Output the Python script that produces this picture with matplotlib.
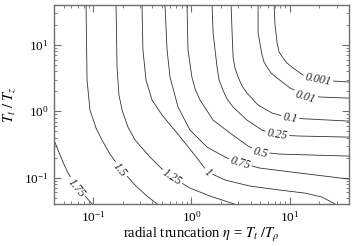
import numpy as np
import matplotlib
matplotlib.use("Agg")
import matplotlib.pyplot as plt

# serif look of the original (Times-like)
plt.rcParams['font.family'] = ['Liberation Serif', 'DejaVu Serif']
plt.rcParams['mathtext.fontset'] = 'stix'
plt.rcParams['font.size'] = 9

# contour levels, as printed on the lines
levels = ['0.001', '0.01', '0.1', '0.25', '0.5', '0.75', '1', '1.25', '1.5', '1.75']

# contour lines: eta (x) and Tt/Tz (y)
x_0001 = [6.92, 7.08, 7.43, 7.78, 8.55, 9.38, 10.8, 13.6, 19.4, 27.5, 40]
y_0001 = [40, 19.95, 10.7, 7.82, 6.35, 5.33, 4.49, 3.52, 3.06, 2.86, 2.76]

x_001 = [4.76, 4.76, 5.22, 5.47, 5.87, 6.45, 7.43, 10.07, 14.3, 20.3, 40]
y_001 = [40, 15.1, 7.05, 5.52, 4.65, 3.77, 3.17, 2.24, 1.76, 1.64, 1.58]

x_01 = [2.53, 2.59, 2.65, 2.77, 2.98, 3.27, 3.67, 4.76, 6.60, 10.07, 16.1, 40]
y_01 = [40, 15.1, 6.57, 4.49, 3.28, 2.40, 1.88, 1.24, 0.94, 0.791, 0.762, 0.711]

x_025 = [1.62, 1.66, 1.82, 1.91, 2.09, 2.30, 2.65, 3.67, 5.22, 7.43, 12.7, 40]
y_025 = [40, 15.1, 4.65, 2.96, 2.09, 1.53, 1.16, 0.736, 0.520, 0.438, 0.423, 0.408]

x_05 = [0.901, 0.922, 1.01, 1.09, 1.22, 1.66, 2.47, 3.76, 4.99, 7.96, 40]
y_05 = [40, 8.38, 3.28, 2.16, 1.48, 0.736, 0.469, 0.299, 0.243, 0.226, 0.211]

x_075 = [0.538, 0.565, 0.605, 0.730, 0.966, 1.44, 2.30, 3.12, 4.99, 12.7, 40]
y_075 = [40, 8.38, 3.28, 1.16, 0.520, 0.288, 0.197, 0.166, 0.139, 0.117, 0.095]

x_1 = [0.314, 0.321, 0.345, 0.397, 0.502, 0.713, 1.04, 1.47, 2.20, 3.94, 7.96, 14.3, 21.3, 28.9]
y_1 = [40, 8.38, 2.96, 1.48, 0.877, 0.469, 0.234, 0.121, 0.0918, 0.0745, 0.0648, 0.0584, 0.0508, 0.04]

x_125 = [0.171, 0.175, 0.183, 0.197, 0.226, 0.267, 0.379, 0.514, 0.634, 0.966, 1.55, 2.71]
y_125 = [40, 4.65, 1.76, 1.04, 0.578, 0.368, 0.204, 0.130, 0.102, 0.0695, 0.0526, 0.04]

x_15 = [0.0847, 0.0867, 0.0929, 0.107, 0.123, 0.1485, 0.1875, 0.267, 0.353, 0.447]
y_15 = [40, 2.96, 1.04, 0.558, 0.368, 0.226, 0.139, 0.0771, 0.0526, 0.04]

x_175 = [0.040, 0.044, 0.0494, 0.0555, 0.0638, 0.0735, 0.0847, 0.0975]
y_175 = [0.368, 0.260, 0.171, 0.117, 0.0855, 0.0648, 0.0508, 0.04]

# where each level's label sits on its line
label_x = [19.4, 14.3, 10.07, 7.43, 4.99, 3.12, 1.47, 0.634, 0.1875, 0.067]
label_y = [3.0, 1.64, 0.79, 0.438, 0.234, 0.166, 0.121, 0.102, 0.130, 0.0695]

lines_x = [x_0001, x_001, x_01, x_025, x_05, x_075, x_1, x_125, x_15, x_175]
lines_y = [y_0001, y_001, y_01, y_025, y_05, y_075, y_1, y_125, y_15, y_175]

fig = plt.figure(figsize=(3.57, 2.46), dpi=100)
ax = fig.add_axes([54 / 357, 1 - 204 / 246, 295 / 357, 199 / 246])
ax.set_xscale('log')
ax.set_yscale('log')
ax.set_xlim(0.04, 40)
ax.set_ylim(0.04, 40)

line_color = '#333333'
for xs, ys in zip(lines_x, lines_y):
    ax.plot(xs, ys, color=line_color, lw=0.6, zorder=2,
            solid_joinstyle='round')


def label_angle(xs, ys, lx, ly):
    # direction of the line near the label, in screen space
    pts = ax.transData.transform(np.column_stack([xs, ys]))
    p = ax.transData.transform((lx, ly))
    i = int(np.argmin(np.hypot(*(pts - p).T)))
    j0, j1 = max(i - 1, 0), min(i + 1, len(xs) - 1)
    dx, dy = pts[j1] - pts[j0]
    return np.degrees(np.arctan2(dy, dx))


for lev, xs, ys, lx, ly in zip(levels, lines_x, lines_y, label_x, label_y):
    ang = label_angle(xs, ys, lx, ly)
    ax.text(lx, ly, lev, rotation=ang, rotation_mode='anchor',
            ha='center', va='center', fontsize=8.5, style='italic',
            color='#222222', zorder=3,
            bbox=dict(boxstyle='square,pad=0.15', fc='white', ec='none'))

# IDL-like frame: ticks inside on every side
for s in ax.spines.values():
    s.set_color('#6e6e6e')
    s.set_linewidth(1.0)
ax.tick_params(which='both', direction='in', top=True, right=True,
               color='#6e6e6e', labelsize=9.5)
ax.tick_params(which='major', length=5, width=0.8, pad=4)
ax.tick_params(which='minor', length=2.5, width=0.6)

ax.set_xlabel(r'radial truncation $\eta$ = $T_t\;/T_\rho$', fontsize=10.5, labelpad=1)
ax.set_ylabel(r'$T_t\ /\ T_z$', fontsize=10.5, labelpad=5)

fig.savefig('out.png', dpi=100)
